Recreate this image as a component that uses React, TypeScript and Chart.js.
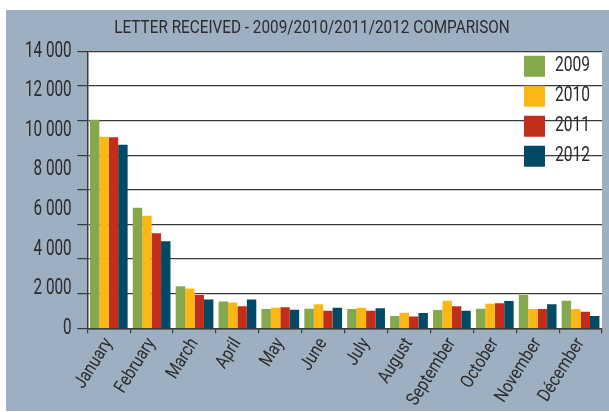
import React, { useEffect, useRef } from "react";
import { Chart, registerables } from "chart.js";

Chart.register(...registerables);

const months = ["January", "February", "March", "April", "May", "June", "July", "August", "September", "October", "November", "Décember"];
const years = ["2009", "2010", "2011", "2012"];
const values2009 = [10540, 6090, 2130, 1360, 970, 990, 970, 620, 920, 990, 1680, 1390];
const values2010 = [9680, 5690, 2010, 1310, 1040, 1220, 1040, 790, 1390, 1240, 970, 970];
const values2011 = [9650, 4800, 1680, 1110, 1070, 890, 890, 600, 1120, 1260, 970, 840];
const values2012 = [9280, 4400, 1460, 1460, 940, 1040, 1010, 770, 890, 1380, 1210, 620];
const colors = ["#86A84C", "#FBB814", "#C12E1C", "#004A66"];
const titleText = "LETTER RECEIVED - 2009/2010/2011/2012 COMPARISON";

const FONT = "Roboto, 'DejaVu Sans Condensed', sans-serif";
const TEXT = "#2b2b2b";
const LINE = "#3a3a3a";

// font sizes (px) of each text group and the horizontal condensing applied to it
const SIZE_TITLE = 18;
const SIZE_X = 18.5;
const SIZE_LEGEND = 20;
const SIZE_Y = 21.5;
const SQUEEZE: [number, number][] = [
  [SIZE_TITLE, 0.85],
  [SIZE_X, 0.84],
  [SIZE_LEGEND, 0.78],
  [SIZE_Y, 0.71],
];

const W = 603;
const H = 401;

const fmt = (v: number) => String(v).replace(/\B(?=(\d{3})+(?!\d))/g, " ");

function condense(ctx: any) {
  const origFill = ctx.fillText.bind(ctx);
  const origMeasure = ctx.measureText.bind(ctx);
  const factor = () => {
    const m = /([\d.]+)px/.exec(ctx.font);
    const px = m ? parseFloat(m[1]) : 0;
    for (const [k, s] of SQUEEZE) if (Math.abs(k - px) < 0.01) return s;
    return 1;
  };
  ctx.fillText = (text: string, x: number, y: number, maxWidth?: number) => {
    const s = factor();
    if (s === 1) return maxWidth === undefined ? origFill(text, x, y) : origFill(text, x, y, maxWidth);
    ctx.save();
    ctx.translate(x, y);
    ctx.scale(s, 1);
    origFill(text, 0, 0);
    ctx.restore();
  };
  ctx.measureText = (text: string) => {
    const m = origMeasure(text);
    const s = factor();
    if (s === 1) return m;
    return {
      width: m.width * s,
      actualBoundingBoxLeft: m.actualBoundingBoxLeft * s,
      actualBoundingBoxRight: m.actualBoundingBoxRight * s,
      actualBoundingBoxAscent: m.actualBoundingBoxAscent,
      actualBoundingBoxDescent: m.actualBoundingBoxDescent,
      fontBoundingBoxAscent: m.fontBoundingBoxAscent,
      fontBoundingBoxDescent: m.fontBoundingBoxDescent,
    };
  };
}

export default function App() {
  const ref = useRef<HTMLCanvasElement | null>(null);

  useEffect(() => {
    document.body.style.margin = "0";
    const canvas = ref.current;
    if (!canvas) return;
    condense(canvas.getContext("2d"));

    const areaBg = {
      id: "areaBg",
      beforeDraw(chart: any) {
        const { ctx, chartArea } = chart;
        ctx.save();
        ctx.fillStyle = "#ffffff";
        ctx.fillRect(chartArea.left, chartArea.top, chartArea.right - chartArea.left, chartArea.bottom - chartArea.top);
        ctx.restore();
      },
    };

    const legendPlace = {
      id: "legendPlace",
      afterLayout(chart: any) {
        const lg = chart.legend;
        if (!lg) return;
        lg.left = 509;
        lg.right = chart.chartArea.right;
        lg.top = 36.7;
        lg.bottom = chart.chartArea.bottom;
        lg.width = lg.right - lg.left;
        lg.height = lg.bottom - lg.top;
      },
    };

    const datasets = [values2009, values2010, values2011, values2012].map((d, i) => ({
      label: years[i],
      data: d,
      backgroundColor: colors[i],
      borderWidth: 0,
      yAxisID: "y",
      categoryPercentage: 0.88,
      barPercentage: 1.0,
    }));

    const chart = new Chart(canvas, {
      type: "bar",
      data: { labels: months, datasets },
      plugins: [areaBg, legendPlace],
      options: {
        animation: false,
        responsive: false,
        layout: { padding: { left: 16, right: 7, top: 0, bottom: 0 } },
        plugins: {
          title: {
            display: true,
            text: titleText,
            color: TEXT,
            font: { family: FONT, size: SIZE_TITLE, weight: "normal" },
            padding: { top: 7.2, bottom: 12.5 },
          },
          legend: {
            display: true,
            position: "chartArea" as any,
            align: "start",
            labels: {
              boxWidth: 21,
              boxHeight: 21,
              padding: 9,
              color: TEXT,
              font: { family: FONT, size: SIZE_LEGEND },
            },
          },
          tooltip: { enabled: false },
        },
        scales: {
          x: {
            grid: {
              offset: true,
              drawOnChartArea: false,
              drawTicks: true,
              tickLength: 5,
              color: LINE,
              lineWidth: 1.2,
            },
            border: { display: true, color: LINE, width: 1.5 },
            ticks: {
              autoSkip: false,
              minRotation: 58,
              maxRotation: 58,
              padding: 1,
              color: TEXT,
              font: { family: FONT, size: SIZE_X },
            },
            afterFit(scale: any) {
              scale.height = H - 318.3;
            },
          },
          y: {
            type: "linear",
            position: "left",
            weight: 1,
            min: 0,
            max: 14000,
            grid: { display: false, drawTicks: false },
            border: { display: false },
            ticks: {
              stepSize: 2000,
              padding: 5.6,
              color: TEXT,
              font: { family: FONT, size: SIZE_Y },
              callback: (v: any) => fmt(Number(v)),
            },
            afterFit(scale: any) {
              scale.width = 55.3;
            },
          },
          y2: {
            type: "linear",
            position: "left",
            weight: 0,
            min: 0,
            max: 16000,
            grid: {
              display: true,
              drawTicks: true,
              tickLength: 10,
              color: LINE,
              lineWidth: 1.2,
            },
            border: { display: true, color: LINE, width: 1.5 },
            ticks: { display: false, stepSize: 2000 },
            afterFit(scale: any) {
              scale.width = 10;
            },
          },
        },
      } as any,
    });

    return () => chart.destroy();
  }, []);

  return (
    <div style={{ position: "relative", width: 609, height: 412, background: "#ffffff" }}>
      <div style={{ position: "absolute", left: 6, top: 10, width: W, height: H, background: "#9DAFC0" }}>
        <canvas ref={ref} width={W} height={H} style={{ width: W, height: H, display: "block" }} />
      </div>
    </div>
  );
}
